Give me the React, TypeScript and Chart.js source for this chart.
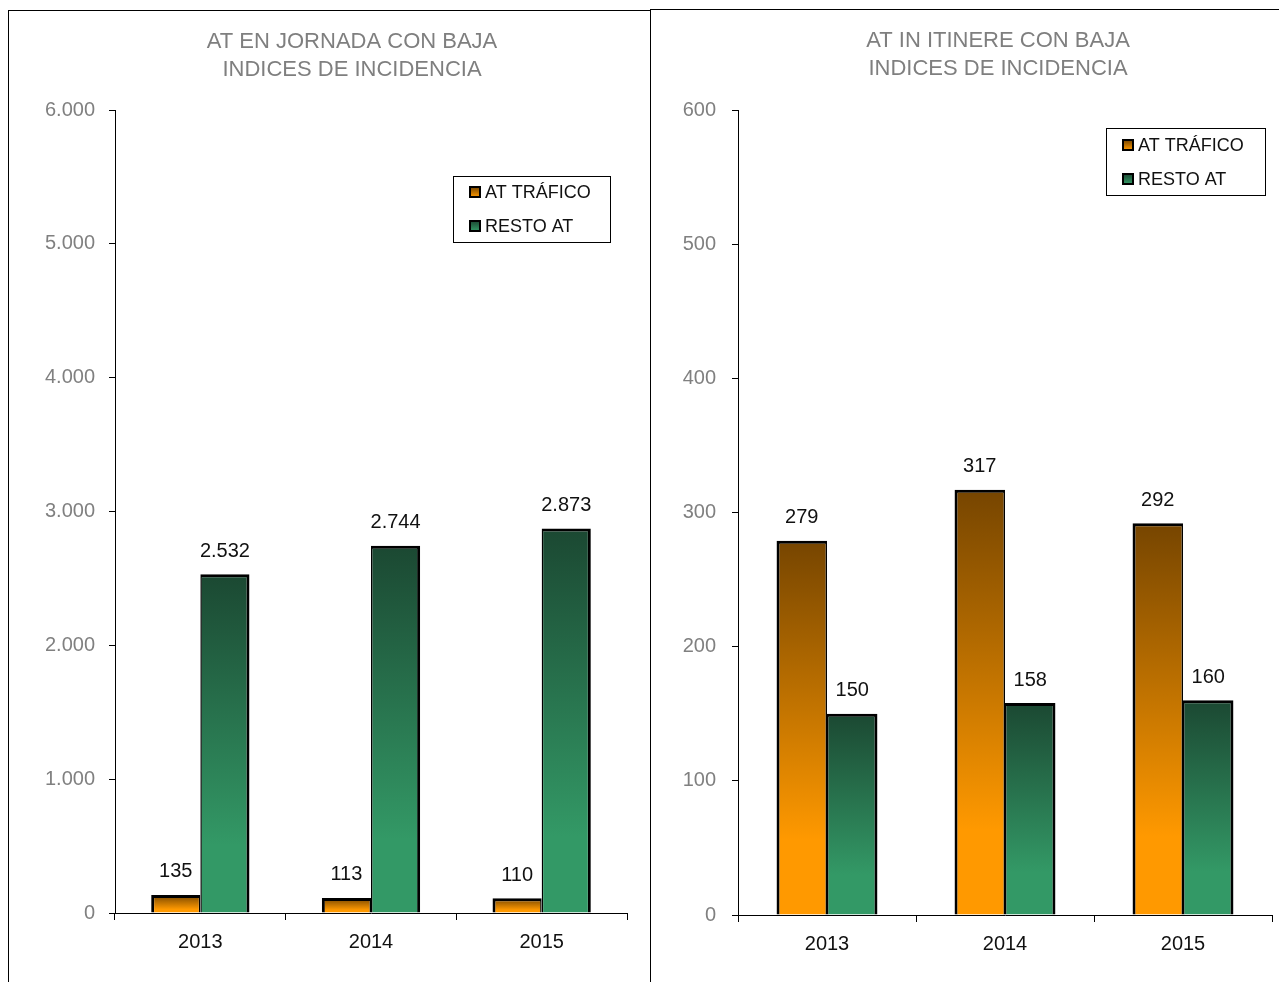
import React, { useEffect, useRef } from "react";
import { Chart, registerables } from "chart.js";

Chart.register(...registerables);

const years = ["2013", "2014", "2015"];
const seriesLabels = ["AT TRÁFICO", "RESTO AT"];
const jornadaTrafico = [135, 113, 110];
const jornadaResto = [2532, 2744, 2873];
const itinereTrafico = [279, 317, 292];
const itinereResto = [150, 158, 160];
const jornadaTitle = ["AT EN JORNADA CON BAJA", "INDICES DE INCIDENCIA"];
const itinereTitle = ["AT IN ITINERE CON BAJA", "INDICES DE INCIDENCIA"];
const jornadaAxis = { max: 6000, step: 1000 };
const itinereAxis = { max: 600, step: 100 };

const FONT = "'Liberation Sans', Arial, sans-serif";
const ORANGE = { dark: "#764500", light: "#FF9900" };
const GREEN = { dark: "#1B4832", light: "#339966" };

const fmt = (n: number) =>
  String(Math.round(n)).replace(/\B(?=(\d{3})+(?!\d))/g, ".");

const makeGrad = (c: { dark: string; light: string }) => (ctx: any) => {
  const chart = ctx.chart;
  if (!chart.chartArea || ctx.type !== "data") return c.light;
  const y = chart.scales.y;
  const top = y.getPixelForValue(ctx.raw);
  const bottom = y.getPixelForValue(0);
  if (!isFinite(top) || !isFinite(bottom) || bottom - top < 1) return c.light;
  const g = chart.ctx.createLinearGradient(0, top, 0, bottom);
  g.addColorStop(0, c.dark);
  g.addColorStop(0.8, c.light);
  g.addColorStop(1, c.light);
  return g;
};

const decorPlugin = {
  id: "decor",
  afterDraw(chart: any, _args: any, opts: any) {
    const ctx = chart.ctx;
    ctx.save();
    // title
    ctx.fillStyle = "#7f7f7f";
    ctx.font = `22px ${FONT}`;
    ctx.textAlign = "center";
    ctx.textBaseline = "middle";
    (opts.title || []).forEach((line: string, i: number) => {
      ctx.fillText(line, opts.titleX, opts.titleY + i * 28);
    });
    // value labels
    ctx.fillStyle = "#111";
    ctx.font = `20px ${FONT}`;
    chart.data.datasets.forEach((ds: any, di: number) => {
      const meta = chart.getDatasetMeta(di);
      meta.data.forEach((bar: any, i: number) => {
        ctx.fillText(fmt(ds.data[i]), bar.x, bar.y - 23);
      });
    });
    // legend
    const L = opts.legend;
    if (L) {
      ctx.fillStyle = "#fff";
      ctx.fillRect(L.x, L.y, L.w, L.h);
      ctx.strokeStyle = "#000";
      ctx.lineWidth = 1;
      ctx.strokeRect(L.x + 0.5, L.y + 0.5, L.w, L.h);
      ctx.textAlign = "left";
      ctx.font = `18px ${FONT}`;
      chart.data.datasets.forEach((ds: any, di: number) => {
        const cy = L.y + L.rowStart + di * L.rowGap;
        const sx = L.x + L.sq;
        const col = di === 0 ? ORANGE : GREEN;
        const g = ctx.createLinearGradient(0, cy - 5, 0, cy + 5);
        g.addColorStop(0, col.dark);
        g.addColorStop(1, col.light);
        ctx.fillStyle = g;
        ctx.fillRect(sx, cy - 5, 10, 10);
        ctx.strokeStyle = "#000";
        ctx.lineWidth = 2;
        ctx.strokeRect(sx, cy - 5, 10, 10);
        ctx.fillStyle = "#111";
        ctx.fillText(ds.label, sx + 15, cy + 1);
      });
    }
    ctx.restore();
  },
};

function makeConfig(
  a: number[],
  b: number[],
  axis: { max: number; step: number },
  geom: any
) {
  return {
    type: "bar" as const,
    data: {
      labels: years,
      datasets: [
        {
          label: seriesLabels[0],
          data: a,
          backgroundColor: makeGrad(ORANGE),
          borderColor: "#000",
          borderWidth: { top: 3, left: 3, right: 1.5, bottom: 0 },
          borderSkipped: "start",
          categoryPercentage: geom.catPct,
          barPercentage: 1,
        },
        {
          label: seriesLabels[1],
          data: b,
          backgroundColor: makeGrad(GREEN),
          borderColor: "#000",
          borderWidth: { top: 3, left: 1.5, right: 3, bottom: 0 },
          borderSkipped: "start",
          categoryPercentage: geom.catPct,
          barPercentage: 1,
        },
      ],
    },
    options: {
      responsive: false,
      animation: false,
      events: [],
      devicePixelRatio: 1,
      layout: { padding: { top: geom.padTop, right: geom.padRight, left: 0, bottom: 0 } },
      plugins: {
        legend: { display: false },
        title: { display: false },
        tooltip: { enabled: false },
        decor: {
          title: geom.title,
          titleX: geom.titleX,
          titleY: geom.titleY,
          legend: geom.legend,
        },
      },
      scales: {
        x: {
          afterFit: (s: any) => {
            s.height = geom.xHeight;
          },
          grid: {
            display: true,
            drawOnChartArea: false,
            drawTicks: true,
            tickLength: 7,
            color: "#000",
            offset: true,
          },
          border: { display: true, color: "#000", width: 1 },
          ticks: { color: "#111", font: { family: FONT, size: 20 }, padding: 10 },
        },
        y: {
          min: 0,
          max: axis.max,
          afterFit: (s: any) => {
            s.width = geom.yWidth;
          },
          grid: {
            display: true,
            drawOnChartArea: false,
            drawTicks: true,
            tickLength: 6,
            color: "#000",
          },
          border: { display: true, color: "#000", width: 1 },
          ticks: {
            stepSize: axis.step,
            color: "#808080",
            font: { family: FONT, size: 20 },
            padding: geom.yPad,
            callback: (v: any) => fmt(Number(v)),
          },
        },
      },
    },
    plugins: [decorPlugin],
  };
}

function BarPanel({ cfg, width, height }: { cfg: any; width: number; height: number }) {
  const ref = useRef<HTMLCanvasElement>(null);
  useEffect(() => {
    if (!ref.current) return;
    const chart = new Chart(ref.current, cfg);
    return () => chart.destroy();
  }, []);
  return <canvas ref={ref} width={width} height={height} style={{ display: "block", width, height }} />;
}

export default function App() {
  const leftCfg = makeConfig(jornadaTrafico, jornadaResto, jornadaAxis, {
    catPct: 0.576,
    padTop: 99,
    padRight: 22,
    xHeight: 64,
    yWidth: 106,
    yPad: 14,
    title: jornadaTitle,
    titleX: 343,
    titleY: 31,
    legend: { x: 444, y: 165, w: 157, h: 66, sq: 17, rowStart: 16, rowGap: 34 },
  });
  const rightCfg = makeConfig(itinereTrafico, itinereResto, itinereAxis, {
    catPct: 0.567,
    padTop: 100,
    padRight: 7,
    xHeight: 67,
    yWidth: 87,
    yPad: 16,
    title: itinereTitle,
    titleX: 347,
    titleY: 31,
    legend: { x: 455, y: 118, w: 159, h: 67, sq: 17, rowStart: 17, rowGap: 34 },
  });
  return (
    <div
      style={{
        position: "fixed",
        left: 0,
        top: 0,
        width: 1279,
        height: 982,
        overflow: "hidden",
        background: "#fff",
      }}
    >
      <div
        style={{
          position: "absolute",
          left: 8,
          top: 10,
          width: 643,
          height: 1000,
          boxSizing: "border-box",
          border: "1px solid #000",
        }}
      />
      <div
        style={{
          position: "absolute",
          left: 650,
          top: 9,
          width: 700,
          height: 1000,
          boxSizing: "border-box",
          border: "1px solid #000",
        }}
      />
      <div style={{ position: "absolute", left: 9, top: 11 }}>
        <BarPanel cfg={leftCfg} width={640} height={966} />
      </div>
      <div style={{ position: "absolute", left: 651, top: 10 }}>
        <BarPanel cfg={rightCfg} width={628} height={972} />
      </div>
    </div>
  );
}
